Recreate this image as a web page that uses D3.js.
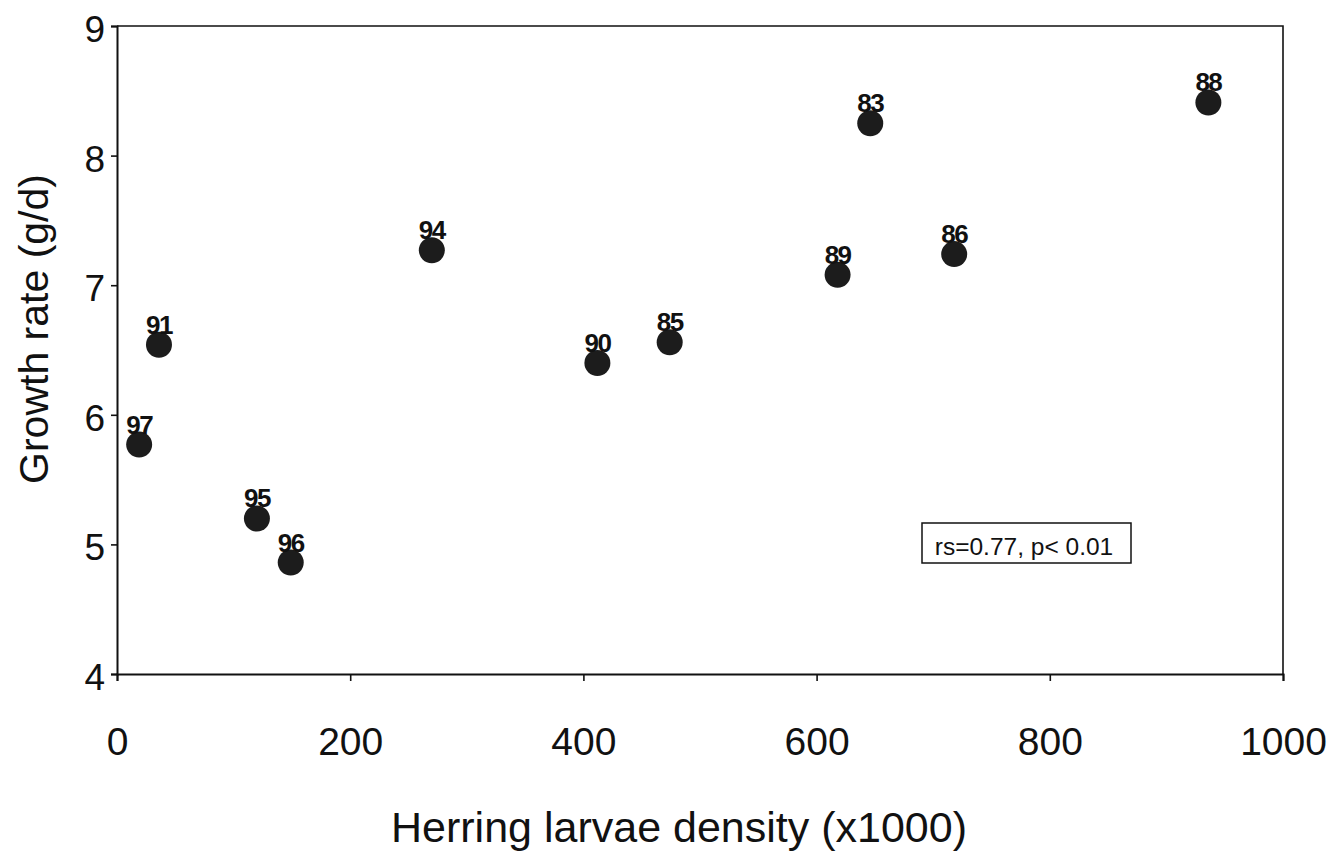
<!DOCTYPE html>
<html>
<head>
<meta charset="utf-8">
<script src="https://cdn.jsdelivr.net/npm/d3@7"></script>
<style>
  body { margin: 0; background: #fff; }
  svg { display: block; }
  text { font-family: "Liberation Sans", Arial, sans-serif; fill: #111; }
</style>
</head>
<body>
<script>
var
  // years (labels), density (x1000), growth rate (g/d)
  years   = ['97', '91', '95', '96', '94', '90', '85', '89', '83', '86', '88'],
  density = [19, 36, 120, 149, 270, 412, 474, 618, 646, 718, 936],
  growth  = [5.77, 6.54, 5.20, 4.86, 7.27, 6.40, 6.56, 7.08, 8.25, 7.24, 8.41],

  xTicks = [0, 200, 400, 600, 800, 1000],
  yTicks = [4, 5, 6, 7, 8, 9],

  note = 'rs=0.77, p< 0.01',

  config = {
    w : 1344,
    h : 861,
    left : 117,
    right : 1283,
    top : 26,
    bottom : 674
  },

  draw = function draw() {
    var
      svg = d3.select('body').append('svg')
        .attr('width', config.w).attr('height', config.h),
      x = d3.scaleLinear().domain([0, 1000]).range([config.left, config.right]),
      y = d3.scaleLinear().domain([4, 9]).range([config.bottom, config.top]),
      data = years.map(function (d, i) {
        return { label : d, x : density[i], y : growth[i] };
      });

    // frame: top and right
    svg.append('path')
      .attr('d', 'M' + config.left + ',' + config.top + 'H' + config.right + 'V' + config.bottom)
      .attr('fill', 'none').attr('stroke', '#111').attr('stroke-width', 1.6);

    // x axis
    var gx = svg.append('g')
      .attr('transform', 'translate(0,' + config.bottom + ')')
      .call(d3.axisBottom(x).tickValues(xTicks).tickSize(7).tickPadding(46).tickFormat(d3.format('d')));
    gx.select('.domain').attr('stroke', '#111').attr('stroke-width', 2);
    gx.selectAll('.tick line').attr('stroke', '#111').attr('stroke-width', 1.6);
    gx.selectAll('text').style('font-size', '39px').attr('fill', '#111')
      .style('font-family', '"Liberation Sans", Arial, sans-serif');

    // y axis
    var gy = svg.append('g')
      .attr('transform', 'translate(' + config.left + ',0)')
      .call(d3.axisLeft(y).tickValues(yTicks).tickSize(6).tickPadding(6).tickFormat(d3.format('d')));
    gy.select('.domain').attr('stroke', '#111').attr('stroke-width', 2);
    gy.selectAll('.tick line').attr('stroke', '#111').attr('stroke-width', 1.6);
    gy.selectAll('text').style('font-size', '37px').attr('fill', '#111').attr('dy', '0.42em')
      .style('font-family', '"Liberation Sans", Arial, sans-serif');

    // points
    svg.append('g').selectAll('circle').data(data).enter().append('circle')
      .attr('cx', function (d) { return x(d.x); })
      .attr('cy', function (d) { return y(d.y); })
      .attr('r', 13)
      .attr('fill', '#1c1c1c');

    svg.append('g').selectAll('text').data(data).enter().append('text')
      .attr('x', function (d) { return x(d.x); })
      .attr('y', function (d) { return y(d.y) - 11; })
      .attr('text-anchor', 'middle')
      .style('font-size', '26px')
      .style('font-weight', 'bold')
      .style('letter-spacing', '-1.5px')
      .text(function (d) { return d.label; });

    // annotation box
    svg.append('rect')
      .attr('x', 922).attr('y', 523).attr('width', 209).attr('height', 40)
      .attr('fill', '#fff').attr('stroke', '#111').attr('stroke-width', 1.5);
    svg.append('text')
      .attr('x', 1024).attr('y', 555).attr('text-anchor', 'middle')
      .style('font-size', '24.5px')
      .text(note);

    // axis titles
    svg.append('text')
      .attr('x', 679).attr('y', 842).attr('text-anchor', 'middle')
      .style('font-size', '43px')
      .text('Herring larvae density (x1000)');
    svg.append('text')
      .attr('transform', 'translate(48,329) rotate(-90)')
      .attr('text-anchor', 'middle')
      .style('font-size', '41px')
      .text('Growth rate (g/d)');
  };

window.addEventListener('load', draw);
</script>
</body>
</html>
